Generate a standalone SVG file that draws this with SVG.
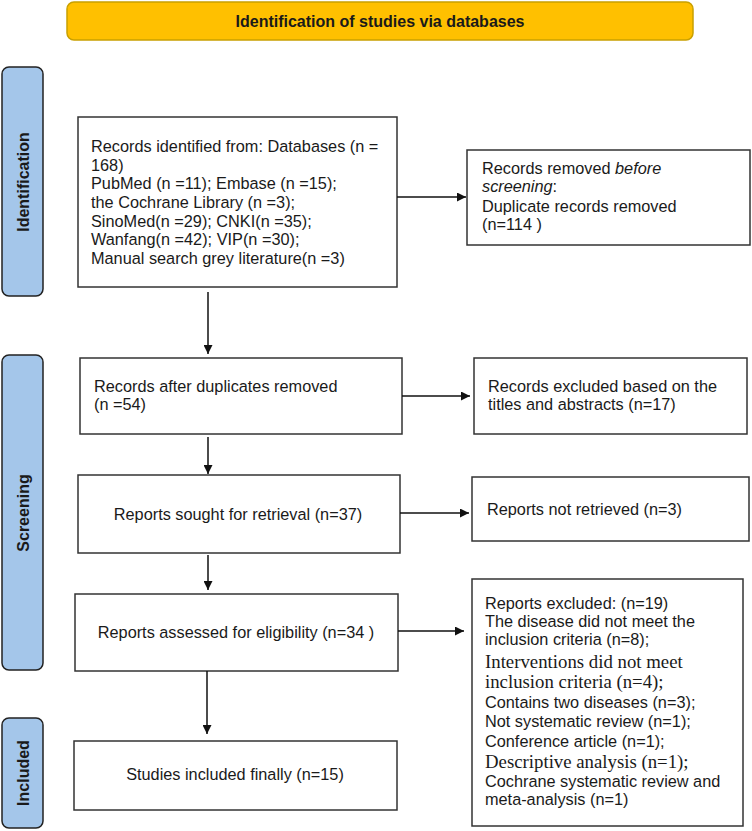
<svg xmlns="http://www.w3.org/2000/svg" width="752" height="831" viewBox="0 0 752 831">
<defs>
<style>
.box{fill:#fff;stroke:#333;stroke-width:1.5}
.bar{fill:#a4c6ea;stroke:#222;stroke-width:1.5}
.t{font-family:"Liberation Sans",Arial,sans-serif;font-size:16.3px;fill:#1a1a1a}
.s{font-family:"Liberation Serif","Times New Roman",serif;font-size:18.8px;fill:#1a1a1a}
.lab{font-family:"Liberation Sans",Arial,sans-serif;font-size:16px;font-weight:bold;fill:#1a1a1a;text-anchor:middle}
.ln{stroke:#111;stroke-width:1.5;fill:none}
</style>
<marker id="ah" viewBox="0 0 10 10" refX="10" refY="5" markerWidth="9" markerHeight="9" markerUnits="userSpaceOnUse" orient="auto">
<path d="M0,0 L10,5 L0,10 z" fill="#111"/>
</marker>
</defs>
<rect width="752" height="831" fill="#fff"/>

<g id="title">
<rect x="67" y="2" width="626" height="38" rx="7" fill="#ffc000" stroke="#c9a000" stroke-width="1.5"/>
<text x="380" y="27" class="lab" font-size="15">Identification of studies via databases</text>
</g>

<g id="bar-identification">
<rect x="2" y="67" width="41" height="229" rx="7" class="bar"/>
<text class="lab" transform="translate(29,182) rotate(-90)">Identification</text>
</g>
<g id="bar-screening">
<rect x="2" y="355" width="41" height="315" rx="7" class="bar"/>
<text class="lab" transform="translate(29,513) rotate(-90)">Screening</text>
</g>
<g id="bar-included">
<rect x="2" y="718" width="41" height="110" rx="7" class="bar"/>
<text class="lab" transform="translate(29,773) rotate(-90)">Included</text>
</g>

<g id="n-identified">
<rect x="78" y="117" width="319" height="170" class="box"/>
<text class="t" x="91" y="152">Records identified from: Databases (n =</text>
<text class="t" x="91" y="171">168)</text>
<text class="t" x="91" y="189">PubMed (n =11); Embase (n =15);</text>
<text class="t" x="91" y="208">the Cochrane Library (n =3);</text>
<text class="t" x="91" y="227">SinoMed(n =29); CNKI(n =35);</text>
<text class="t" x="91" y="245">Wanfang(n =42); VIP(n =30);</text>
<text class="t" x="91" y="264">Manual search grey literature(n =3)</text>
</g>

<g id="n-removed">
<rect x="467" y="150" width="283" height="95" class="box"/>
<text class="t" x="482" y="174">Records removed <tspan font-style="italic">before</tspan></text>
<text class="t" x="482" y="192"><tspan font-style="italic">screening</tspan>:</text>
<text class="t" x="482" y="212">Duplicate records removed</text>
<text class="t" x="482" y="230">(n=114 )</text>
</g>

<g id="n-after-dup">
<rect x="80" y="358" width="322" height="76" class="box"/>
<text class="t" x="94" y="392">Records after duplicates removed</text>
<text class="t" x="94" y="410">(n =54)</text>
</g>

<g id="n-excluded-titles">
<rect x="474" y="358" width="273" height="76" class="box"/>
<text class="t" x="488" y="392">Records excluded based on the</text>
<text class="t" x="488" y="410">titles and abstracts (n=17)</text>
</g>

<g id="n-sought">
<rect x="78" y="475" width="322" height="78" class="box"/>
<text class="t" x="238" y="520" text-anchor="middle">Reports sought for retrieval (n=37)</text>
</g>

<g id="n-not-retrieved">
<rect x="472" y="477" width="277" height="64" class="box"/>
<text class="t" x="487" y="515">Reports not retrieved (n=3)</text>
</g>

<g id="n-assessed">
<rect x="75" y="594" width="323" height="77" class="box"/>
<text class="t" x="236" y="638" text-anchor="middle">Reports assessed for eligibility (n=34 )</text>
</g>

<g id="n-reports-excluded">
<rect x="472" y="579" width="271" height="247" class="box"/>
<text class="t" x="485" y="609">Reports excluded: (n=19)</text>
<text class="t" x="485" y="627">The disease did not meet the</text>
<text class="t" x="485" y="645">inclusion criteria (n=8);</text>
<text class="s" x="485" y="668">Interventions did not meet</text>
<text class="s" x="485" y="688">inclusion criteria (n=4);</text>
<text class="t" x="485" y="708">Contains two diseases (n=3);</text>
<text class="t" x="485" y="727">Not systematic review (n=1);</text>
<text class="t" x="485" y="747">Conference article (n=1);</text>
<text class="s" x="485" y="768">Descriptive analysis (n=1);</text>
<text class="t" x="485" y="787">Cochrane systematic review and</text>
<text class="t" x="485" y="805">meta-analysis (n=1)</text>
</g>

<g id="n-included">
<rect x="74" y="741" width="323" height="69" class="box"/>
<text class="t" x="235" y="780" text-anchor="middle">Studies included finally (n=15)</text>
</g>

<g id="connectors">
<line class="ln" x1="397" y1="197" x2="466" y2="197" marker-end="url(#ah)"/>
<line class="ln" x1="208" y1="292" x2="208" y2="354" marker-end="url(#ah)"/>
<line class="ln" x1="402" y1="396" x2="470" y2="396" marker-end="url(#ah)"/>
<line class="ln" x1="208" y1="437" x2="208" y2="474" marker-end="url(#ah)"/>
<line class="ln" x1="400" y1="513" x2="469" y2="513" marker-end="url(#ah)"/>
<line class="ln" x1="208" y1="555" x2="208" y2="590" marker-end="url(#ah)"/>
<line class="ln" x1="398" y1="631" x2="464" y2="631" marker-end="url(#ah)"/>
<line class="ln" x1="207" y1="671" x2="207" y2="734" marker-end="url(#ah)"/>
</g>
</svg>
